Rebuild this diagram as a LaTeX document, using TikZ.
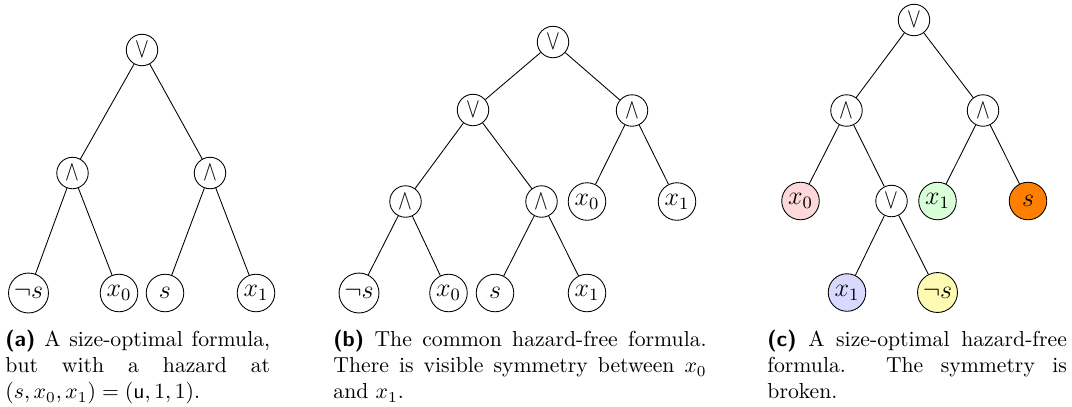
\documentclass[tikz,border=0pt]{standalone}
\usepackage{graphicx}
\newcommand\myor{$\scalebox{0.95}[1.3]{$\vee$}$}
\newcommand\myand{$\scalebox{0.95}[1.3]{$\wedge$}$}
\begin{document}
\begin{tikzpicture}[x=0.4608pt,y=-0.4608pt,
  gate/.style={circle,draw,inner sep=0pt,minimum size=14.5pt},
  leaf/.style={circle,draw,inner sep=0pt,minimum size=17.3pt,font=\large},
  nleaf/.style={leaf,minimum size=18.4pt},
  captext/.style={anchor=north west,inner sep=0pt,align=justify,font=\normalsize}]
\useasboundingbox (0,0) rectangle (1072,406);
% (a)
\node[gate] (a0) at (142,50) {\myor};
\node[gate] (a1) at (72.5,173) {\myand};
\node[gate] (a2) at (210,173) {\myand};
\node[nleaf] (a3) at (28.5,293) {$\neg s$};
\node[leaf] (a4) at (119,293) {$x_0$};
\node[leaf] (a5) at (165,293) {$s$};
\node[leaf] (a6) at (256,293) {$x_1$};
\draw (a0) -- (a1); \draw (a0) -- (a2);
\draw (a1) -- (a3); \draw (a1) -- (a4);
\draw (a2) -- (a5); \draw (a2) -- (a6);
\node[captext,text width=122pt] (capa) at (5,330) {\textsf{\textbf{(a)}} A size-optimal formula,\linebreak but with a hazard at\linebreak $(s,x_0,x_1)=(\mathsf{u},1,1)$.};
% (b)
\node[gate] (b0) at (553,42) {\myor};
\node[gate] (b1) at (473,110) {\myor};
\node[gate] (b2) at (632,110.5) {\myand};
\node[gate] (b3) at (405.5,201.5) {\myand};
\node[gate] (b4) at (541.5,201.5) {\myand};
\node[leaf] (b5) at (587,201.5) {$x_0$};
\node[leaf] (b6) at (677,201.5) {$x_1$};
\node[nleaf] (b7) at (359,293) {$\neg s$};
\node[leaf] (b8) at (448.5,293) {$x_0$};
\node[leaf] (b9) at (495,293) {$s$};
\node[leaf] (b10) at (587,293) {$x_1$};
\draw (b0) -- (b1); \draw (b0) -- (b2);
\draw (b1) -- (b3); \draw (b1) -- (b4);
\draw (b2) -- (b5); \draw (b2) -- (b6);
\draw (b3) -- (b7); \draw (b3) -- (b8);
\draw (b4) -- (b9); \draw (b4) -- (b10);
\node[captext,text width=172pt] (capb) at (333,330) {\textsf{\textbf{(b)}} The common hazard-free formula.\linebreak There is visible symmetry between $x_0$\linebreak and $x_1$.};
% (c)
\node[gate] (c0) at (914,20) {\myor};
\node[gate] (c1) at (846.5,110.5) {\myand};
\node[gate] (c2) at (983,110.5) {\myand};
\node[leaf,fill=red!15] (c3) at (800.5,201) {$x_0$};
\node[gate] (c4) at (891.5,201) {\myor};
\node[leaf,fill=green!15] (c5) at (937.5,201) {$x_1$};
\node[leaf,fill=orange] (c6) at (1028,201) {$s$};
\node[leaf,fill=blue!15] (c7) at (847,292.5) {$x_1$};
\node[nleaf,fill=yellow!30] (c8) at (937.5,292.5) {$\neg s$};
\draw (c0) -- (c1); \draw (c0) -- (c2);
\draw (c1) -- (c3); \draw (c1) -- (c4);
\draw (c2) -- (c5); \draw (c2) -- (c6);
\draw (c4) -- (c7); \draw (c4) -- (c8);
\node[captext,text width=138pt] (capc) at (767,330) {\textsf{\textbf{(c)}} A size-optimal hazard-free\linebreak formula. The symmetry is\linebreak broken.};
\end{tikzpicture}
\end{document}
